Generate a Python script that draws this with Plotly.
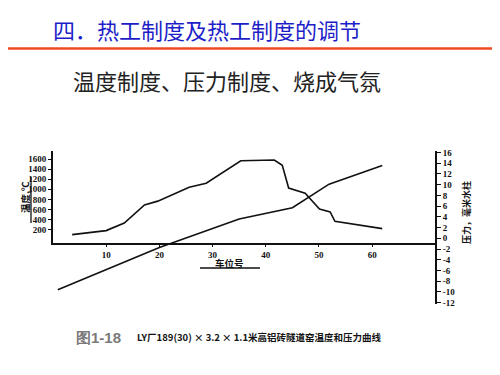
import plotly.graph_objects as go

# ---- data ----
temp_pos = [3.6, 10.0, 13.4, 17.2, 19.7, 25.6, 28.8, 35.3, 41.6, 43.1, 44.3, 47.4, 50.1, 52.1, 53.0, 61.9]
temp_val = [100, 180, 330, 690, 765, 1040, 1120, 1565, 1580, 1475, 1025, 920, 610, 550, 365, 220]

pres_pos = [0.9, 20.0, 35.0, 45.0, 51.9, 61.9]
pres_val = [-9.6, -1.7, 3.6, 5.7, 10.1, 13.6]

x_ticks = [10, 20, 30, 40, 50, 60]
temp_ticks = [200, 400, 600, 800, 1000, 1200, 1400, 1600]
pres_ticks = list(range(-12, 17, 2))

title_text = "四．热工制度及热工制度的调节"
subtitle_text = "温度制度、压力制度、烧成气氛"
temp_title = "温度,℃"
pres_title = "压力，毫米水柱"
x_title = "车位号"
fig_no = "图1-18"
caption = "LY厂189(30) × 3.2 × 1.1米高铝砖隧道窑温度和压力曲线"

# page body has an 8px margin; work in page pixels and shift
OFF = 8
W, H = 492, 367
# plot area in page pixels
PL, PR, PT, PB = 53, 436, 151, 304
L = PL - OFF
R = W - (PR - OFF)
T = PT - OFF
B = H - (PB - OFF)
plot_w = W - L - R
plot_h = H - T - B
x_axis_px = 243  # page px
temp_dom_bottom = (PB - x_axis_px) / plot_h


def to_paper_x(px):
    return (px - OFF - L) / plot_w


def to_paper_y(py):
    return (H - B - (py - OFF)) / plot_h


serif = "Liberation Serif, DejaVu Serif, serif"
cjk = "Noto Sans CJK SC, sans-serif"

fig = go.Figure()
fig.add_trace(go.Scatter(x=temp_pos, y=temp_val, mode="lines", xaxis="x", yaxis="y",
                         line=dict(color="#111", width=1.6), hoverinfo="skip", showlegend=False))
fig.add_trace(go.Scatter(x=pres_pos, y=pres_val, mode="lines", xaxis="x", yaxis="y2",
                         line=dict(color="#111", width=1.6), hoverinfo="skip", showlegend=False))

tickfont = dict(family=serif, size=9, color="#111", weight="bold")

fig.update_layout(
    width=W, height=H,
    margin=dict(l=L, r=R, t=T, b=B, pad=0, autoexpand=False),
    paper_bgcolor="white", plot_bgcolor="rgba(0,0,0,0)",
    showlegend=False,
    xaxis=dict(range=[0, 72], domain=[0, 1], anchor="y",
               tickvals=x_ticks, ticktext=[str(v) for v in x_ticks],
               showline=True, linecolor="#111", linewidth=1.8,
               ticks="outside", ticklen=2, tickcolor="#111",
               showgrid=False, zeroline=False, tickfont=tickfont),
    yaxis=dict(range=[-66, 1760], domain=[temp_dom_bottom, 1], anchor="x",
               tickvals=temp_ticks, ticktext=[str(v) for v in temp_ticks],
               showline=True, linecolor="#111", linewidth=1.8,
               ticks="outside", ticklen=3, tickcolor="#111",
               showgrid=False, zeroline=False, tickfont=tickfont),
    yaxis2=dict(range=[-12.24, 16.28], domain=[0, 1], anchor="free", position=1,
                side="right",
                tickvals=pres_ticks, ticktext=[str(v) for v in pres_ticks],
                showline=True, linecolor="#111", linewidth=1.8,
                ticks="outside", ticklen=4, tickcolor="#111",
                showgrid=False, zeroline=False, tickfont=tickfont),
)

ann_specs = [
    (title_text, 52, 29, "left", 0, dict(family=cjk, size=22, color="#1e1ec8")),
    (subtitle_text, 72, 80, "left", 0, dict(family=cjk, size=22, color="#222")),
    (temp_title, 25, 197, "center", -90, dict(family=cjk, size=9.5, color="#111", weight="bold")),
    (pres_title, 466, 213, "center", -90, dict(family=cjk, size=9, color="#111", weight="bold")),
    (x_title, 229, 263, "center", 0, dict(family=cjk, size=9.5, color="#111", weight="bold")),
    (fig_no, 75, 337, "left", 0, dict(family="Liberation Sans, Arial, sans-serif", size=15,
                                       color="#7a7a7a", weight="bold")),
    (caption, 136, 337, "left", 0, dict(family=cjk, size=9.5, color="#111", weight="bold")),
]
annotations = []
for text, pxv, pyv, xa, ang, font in ann_specs:
    annotations.append(dict(text=text, x=to_paper_x(pxv), y=to_paper_y(pyv),
                            xref="paper", yref="paper", xanchor=xa, yanchor="middle",
                            textangle=ang, font=font, showarrow=False, borderpad=0))
fig.update_layout(annotations=annotations)

shapes = [
    dict(type="line", xref="paper", yref="paper",
         x0=to_paper_x(0), x1=to_paper_x(510), y0=to_paper_y(48.5), y1=to_paper_y(48.5),
         line=dict(color="#f04a24", width=2.5)),
    dict(type="line", xref="paper", yref="paper",
         x0=to_paper_x(31), x1=to_paper_x(31), y0=to_paper_y(177), y1=to_paper_y(223),
         line=dict(color="#111", width=1.3)),
    dict(type="line", xref="paper", yref="paper",
         x0=to_paper_x(200), x1=to_paper_x(260), y0=to_paper_y(268), y1=to_paper_y(268),
         line=dict(color="#111", width=1.3)),
]
fig.update_layout(shapes=shapes)

fig.write_html("out.html")
